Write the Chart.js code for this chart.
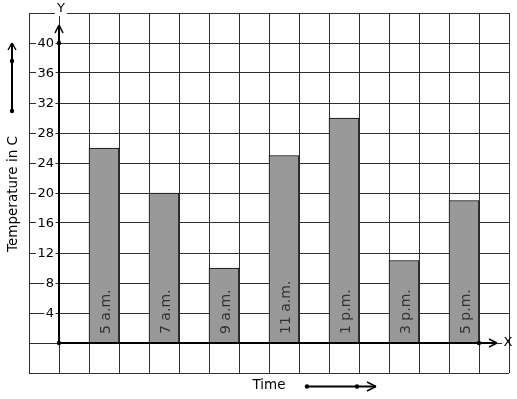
<!DOCTYPE html>
<html>
<head>
<meta charset="utf-8">
<script src="https://cdn.jsdelivr.net/npm/chart.js@4"></script>
<style>
html,body{margin:0;padding:0;background:#fff;}
#wrap{width:517px;height:399px;position:relative;}
</style>
</head>
<body>
<div id="wrap"><canvas id="c" width="517" height="399"></canvas></div>
<script>
const categories = ['5 a.m.', '7 a.m.', '9 a.m.', '11 a.m.', '1 p.m.', '3 p.m.', '5 p.m.'];
const temperatures = [26, 20, 10, 25, 30, 11, 19];
const yTickLabels = ['4', '8', '12', '16', '20', '24', '28', '32', '36', '40'];
const barPositions = [1.5, 3.5, 5.5, 7.5, 9.5, 11.5, 13.5];

const FONT = '"DejaVu Sans", sans-serif';

function line(ctx, x1, y1, x2, y2) { ctx.beginPath(); ctx.moveTo(x1, y1); ctx.lineTo(x2, y2); ctx.stroke(); }
function dot(ctx, x, y) { ctx.beginPath(); ctx.arc(x, y, 2.2, 0, Math.PI * 2); ctx.fill(); }

const decor = {
  id: 'decor',
  afterDatasetsDraw(chart) {
    const ctx = chart.ctx;
    const xs = chart.scales.x, ys = chart.scales.y;
    const meta = chart.getDatasetMeta(0);
    ctx.save();
    // bar labels
    ctx.fillStyle = '#333';
    ctx.font = '14px ' + FONT;
    ctx.textAlign = 'left';
    ctx.textBaseline = 'middle';
    meta.data.forEach((bar, i) => {
      ctx.save();
      ctx.translate(bar.x + 2.5, ys.getPixelForValue(0) - 9);
      ctx.rotate(-Math.PI / 2);
      ctx.fillText(categories[i], 0, 0);
      ctx.restore();
    });
    // y tick labels with white background
    ctx.font = '13px ' + FONT;
    ctx.textAlign = 'right';
    yTickLabels.forEach(t => {
      const y = ys.getPixelForValue(parseFloat(t));
      const w = ctx.measureText(t).width;
      ctx.fillStyle = '#fff';
      ctx.fillRect(54 - w - 1.5, y - 1.5, w + 3, 3);
      ctx.fillStyle = '#000';
      ctx.fillText(t, 54, y + 0.5);
    });
    // axes
    const x0 = xs.getPixelForValue(0), y0 = ys.getPixelForValue(0);
    ctx.strokeStyle = '#000';
    ctx.fillStyle = '#000';
    ctx.lineWidth = 2;
    line(ctx, x0, y0, x0, 25);
    line(ctx, x0, y0, 497, y0);
    ctx.lineWidth = 1.5;
    // y arrow head
    line(ctx, x0 - 4, 33, x0, 25); line(ctx, x0 + 4, 33, x0, 25);
    // x arrow head
    line(ctx, 489, y0 - 4, 497, y0); line(ctx, 489, y0 + 4, 497, y0);
    dot(ctx, x0, y0);
    dot(ctx, x0, ys.getPixelForValue(40));
    dot(ctx, xs.getPixelForValue(14), y0);
    // Y and X letters
    ctx.font = '13px ' + FONT;
    ctx.textAlign = 'center';
    ctx.textBaseline = 'middle';
    ctx.fillStyle = '#fff';
    ctx.fillRect(55, 11, 12, 5);
    ctx.fillStyle = '#000';
    ctx.fillText('Y', 61, 9);
    ctx.fillStyle = '#fff';
    ctx.fillRect(502, y0 - 2, 7, 4);
    ctx.fillStyle = '#000';
    ctx.fillText('X', 508, y0);
    // y title
    ctx.save();
    ctx.font = '13.5px ' + FONT;
    ctx.translate(13, 194);
    ctx.rotate(-Math.PI / 2);
    ctx.fillText('Temperature in C', 0, 0);
    ctx.restore();
    // left arrow
    ctx.lineWidth = 2;
    line(ctx, 12, 111, 12, 43);
    ctx.lineWidth = 1.5;
    line(ctx, 8, 50, 12, 43); line(ctx, 16, 50, 12, 43);
    dot(ctx, 12, 111); dot(ctx, 12, 61);
    // x title
    ctx.font = '13.5px ' + FONT;
    ctx.fillText('Time', 269, 385);
    ctx.lineWidth = 2;
    line(ctx, 307, 386.5, 376, 386.5);
    ctx.lineWidth = 1.5;
    line(ctx, 367, 382, 376, 386.5); line(ctx, 367, 391, 376, 386.5);
    dot(ctx, 307, 386.5); dot(ctx, 357, 386.5);
    ctx.restore();
  }
};

new Chart(document.getElementById('c'), {
  type: 'bar',
  data: {
    datasets: [{
      data: temperatures.map((v, i) => ({ x: barPositions[i], y: v })),
      backgroundColor: '#999999',
      borderColor: '#000',
      borderWidth: 1,
      borderSkipped: 'bottom',
      barThickness: 30
    }]
  },
  options: {
    responsive: false,
    animation: false,
    events: [],
    layout: { padding: { left: 29, top: 13, right: 8, bottom: 26 } },
    plugins: { legend: { display: false }, tooltip: { enabled: false } },
    scales: {
      x: {
        type: 'linear', min: -1, max: 15, offset: false,
        ticks: { stepSize: 1, display: false },
        grid: { color: '#2e2e2e', lineWidth: 1, drawTicks: false, offset: false },
        border: { display: false }
      },
      y: {
        min: -4, max: 44,
        ticks: { stepSize: 4, display: false },
        grid: { color: '#2e2e2e', lineWidth: 1, drawTicks: false },
        border: { display: false }
      }
    }
  },
  plugins: [decor]
});
</script>
</body>
</html>
